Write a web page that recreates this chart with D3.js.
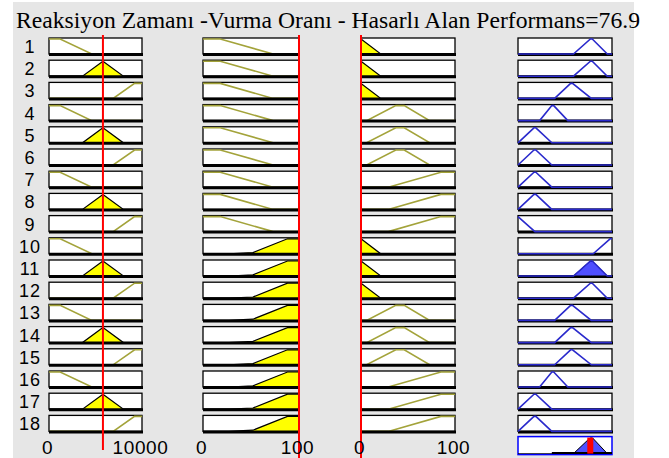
<!DOCTYPE html>
<meta charset="utf-8">
<style>
  body { margin: 0; background: #fff; }
  svg text.rowNum, svg .tick text { font-family: "Liberation Sans", Arial, sans-serif; }
  svg text.title { font-family: "Liberation Serif", "Times New Roman", serif; }
</style>
<svg width="669" height="458" class="ruleView"></svg>
<script src="https://cdn.jsdelivr.net/npm/d3@7/dist/d3.min.js"></script>
<script>

var title = "Reaksiyon Zamanı -Vurma Oranı - Hasarlı Alan Performans=76.9";
var inputValues = [5800, 100, 0];
var outputValue = 76.9;
var tickLabels = [["0", "10000"], ["0", "100"], ["0", "100"]];
var ruleNumbers = d3.range(1, 19);

// membership functions, [x, degree] break points
var reaksiyonMF = {
    low:    [[0, 1], [1200, 1], [4600, 0], [10000, 0]],
    medium: [[0, 0], [3600, 0], [5800, 1], [8000, 0], [10000, 0]],
    high:   [[0, 0], [6900, 0], [9200, 1], [10000, 1]]
};
var vurmaMF = {
    low:  [[0, 1], [18, 1], [73, 0], [100, 0]],
    high: [[0, 0], [27, 0], [52, 0.08], [88, 1], [100, 1]]
};
var hasarMF = {
    low:    [[0, 1], [21, 0], [100, 0]],
    medium: [[0, 0], [6, 0], [37, 1], [46, 1], [73, 0], [100, 0]],
    high:   [[0, 0], [29, 0], [85, 1], [100, 1]]
};
var performansMF = {
    A: [[0, 1], [18, 0], [100, 0]],
    B: [[0, 0], [17, 1], [19, 1], [36, 0], [100, 0]],
    C: [[0, 0], [23, 0], [36, 1], [38, 1], [53, 0], [100, 0]],
    D: [[0, 0], [39, 0], [56, 1], [58, 1], [78, 0], [100, 0]],
    E: [[0, 0], [59, 0], [77, 1], [79, 1], [95, 0], [100, 0]],
    F: [[0, 0], [80, 0], [98, 1], [100, 1]]
};

// rule antecedents / consequents, one entry per rule
var ruleReaksiyon = ["low","medium","high","low","medium","high","low","medium","high",
                     "low","medium","high","low","medium","high","low","medium","high"];
var ruleVurma     = ["low","low","low","low","low","low","low","low","low",
                     "high","high","high","high","high","high","high","high","high"];
var ruleHasar     = ["low","low","low","medium","medium","medium","high","high","high",
                     "low","low","low","medium","medium","medium","high","high","high"];
var rulePerformans = ["E","E","D","C","B","B","B","B","A","F","E","E","D","D","D","C","B","B"];


var svg = d3.select("svg.ruleView");

var columns = [
    { mf: reaksiyonMF, rules: ruleReaksiyon, domain: [0, 10000], range: [49, 142] },
    { mf: vurmaMF, rules: ruleVurma, domain: [0, 100], range: [203, 299] },
    { mf: hasarMF, rules: ruleHasar, domain: [0, 100], range: [361, 455] },
    { mf: performansMF, rules: rulePerformans, domain: [0, 100], range: [518, 612] }
];
columns.forEach(function(c){ c.x = d3.scaleLinear().domain(c.domain).range(c.range); });

var rowY = d3.scaleLinear().domain([1, 18]).range([38, 415.4]);
var boxH = 16;

function mu(pts, v){
    for (var i = 1; i < pts.length; i++) {
        if (v <= pts[i][0]) {
            var a = pts[i-1], b = pts[i];
            if (b[0] === a[0]) return b[1];
            return a[1] + (b[1] - a[1]) * (v - a[0]) / (b[0] - a[0]);
        }
    }
    return pts[pts.length-1][1];
}

// firing strengths
var strengths = ruleNumbers.map(function(r, i){
    return Math.min(
        mu(reaksiyonMF[ruleReaksiyon[i]], inputValues[0]),
        mu(vurmaMF[ruleVurma[i]], inputValues[1]),
        mu(hasarMF[ruleHasar[i]], inputValues[2]));
});

// background panel
svg.append("rect").attr("x", 13).attr("y", 2).attr("width", 621).attr("height", 456).attr("fill", "#e6e6e6");

svg.append("text")
    .attr("class", "title")
    .attr("x", 16).attr("y", 28)
    .attr("textLength", 624)
    .attr("lengthAdjust", "spacingAndGlyphs")
    .attr("font-family", "Liberation Serif, Times New Roman, serif")
    .attr("font-size", 22.5)
    .attr("fill", "#000")
    .text(title);

// row numbers
svg.selectAll("text.rowNum")
    .data(ruleNumbers)
    .enter().append("text")
    .attr("class", "rowNum")
    .attr("x", 30)
    .attr("y", function(d){ return rowY(d) + boxH / 2 + 1; })
    .attr("text-anchor", "middle")
    .attr("dominant-baseline", "central")
    .style("font-size", "18px")
    .style("letter-spacing", "1px")
    .text(function(d){ return d; });

var clipId = 0;

function drawBox(g, x0, x1, y0, stroke){
    g.append("rect")
        .attr("x", x0).attr("y", y0)
        .attr("width", x1 - x0).attr("height", boxH)
        .attr("fill", "#fff")
        .attr("stroke", stroke || "#000")
        .attr("stroke-width", 1.3);
}

function bottomLine(g, x0, x1, y0){
    g.append("line")
        .attr("x1", x0).attr("x2", x1 + 1)
        .attr("y1", y0 + boxH + 0.5).attr("y2", y0 + boxH + 0.5)
        .attr("stroke", "#000").attr("stroke-width", 3);
}

columns.forEach(function(col, ci){
    var x = col.x;
    var isOut = ci === 3;

    ruleNumbers.forEach(function(r, i){
        var y0 = rowY(r);
        var y = d3.scaleLinear().domain([0, 1]).range([y0 + boxH, y0 + 1]);
        var pts = col.mf[col.rules[i]];
        var g = svg.append("g");
        drawBox(g, col.range[0], col.range[1], y0);

        var line = d3.line().x(function(d){ return x(d[0]); }).y(function(d){ return y(d[1]); });
        var area = d3.area().x(function(d){ return x(d[0]); }).y0(y(0)).y1(function(d){ return y(d[1]); });

        if (!isOut) {
            var deg = mu(pts, inputValues[ci]);
            if (deg > 0) {
                g.append("path").attr("d", area(pts))
                    .attr("fill", "#ffff00").attr("stroke", "none");
                g.append("path").attr("d", line(pts))
                    .attr("fill", "none").attr("stroke", "#000").attr("stroke-width", 1.2);
            } else {
                g.append("path").attr("d", line(pts))
                    .attr("fill", "none").attr("stroke", "#a3a33a").attr("stroke-width", 1.6);
            }
            bottomLine(g, col.range[0], col.range[1], y0);
        } else {
            bottomLine(g, col.range[0], col.range[1], y0);
            var w = strengths[i];
            if (w > 0) {
                var id = "clip" + (clipId++);
                svg.append("clipPath").attr("id", id)
                    .append("rect").attr("x", col.range[0]).attr("width", col.range[1] - col.range[0])
                    .attr("y", y(w)).attr("height", y(0) - y(w));
                g.append("path").attr("d", area(pts)).attr("clip-path", "url(#" + id + ")")
                    .attr("fill", "#4f4fff").attr("stroke", "#000").attr("stroke-width", 1);
            }
            g.append("path").attr("d", line(pts))
                .attr("fill", "none").attr("stroke", "#2a2acc").attr("stroke-width", 1.6);
        }
    });
});

// aggregated output
(function(){
    var col = columns[3], x = col.x;
    var y0 = rowY(19) - 1;
    var y = d3.scaleLinear().domain([0, 1]).range([y0 + boxH + 1, y0 + 1]);
    var g = svg.append("g");
    g.append("rect")
        .attr("x", col.range[0]).attr("y", y0)
        .attr("width", col.range[1] - col.range[0]).attr("height", boxH + 2)
        .attr("fill", "#fff").attr("stroke", "#0000ff").attr("stroke-width", 1.5);
    var area = d3.area().x(function(d){ return x(d[0]); }).y0(y(0)).y1(function(d){ return y(d[1]); });
    ruleNumbers.forEach(function(r, i){
        var w = strengths[i];
        if (w <= 0) return;
        var id = "clip" + (clipId++);
        svg.append("clipPath").attr("id", id)
            .append("rect").attr("x", col.range[0]).attr("width", col.range[1] - col.range[0])
            .attr("y", y(w)).attr("height", y(0) - y(w));
        g.append("path").attr("d", area(performansMF[rulePerformans[i]]))
            .attr("clip-path", "url(#" + id + ")")
            .attr("fill", "#4f4fff").attr("stroke", "#000").attr("stroke-width", 1);
    });
    g.append("line")
        .attr("x1", x(36)).attr("x2", col.range[1])
        .attr("y1", y(0) - 0.5).attr("y2", y(0) - 0.5)
        .attr("stroke", "#000").attr("stroke-width", 2);
    g.append("line")
        .attr("x1", x(outputValue)).attr("x2", x(outputValue))
        .attr("y1", y0 + 1).attr("y2", y(0))
        .attr("stroke", "#ff0000").attr("stroke-width", 6);
})();

// red input lines
var redBottom = [450, 458, 458];
inputValues.forEach(function(v, ci){
    var x = columns[ci].x;
    svg.append("line")
        .attr("x1", x(v)).attr("x2", x(v))
        .attr("y1", 35).attr("y2", redBottom[ci])
        .attr("stroke", "#ff0000").attr("stroke-width", 2);
});

// tick labels
tickLabels.forEach(function(labels, ci){
    var col = columns[ci];
    var axis = d3.axisBottom(col.x)
        .tickValues(col.domain)
        .tickFormat(function(d, i){ return labels[i]; })
        .tickSize(0);
    var ag = svg.append("g")
        .attr("transform", "translate(-2,437)")
        .call(axis);
    ag.select(".domain").remove();
    ag.selectAll("text")
        .style("font-size", "19px")
        .style("letter-spacing", "0.6px")
        .attr("fill", "#000");
});

</script>
